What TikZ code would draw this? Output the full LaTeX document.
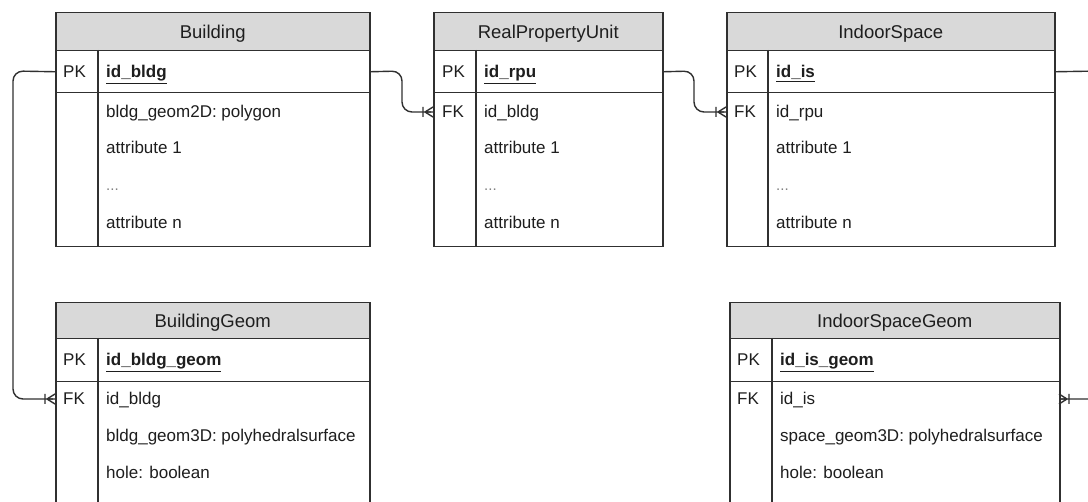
\documentclass[tikz,border=0pt]{standalone}
\usepackage{fontspec}
\setmainfont{Liberation Sans}
\definecolor{linec}{HTML}{303030}
\definecolor{hdrc}{HTML}{D9D9D9}
\definecolor{txtc}{HTML}{1E1E1E}
\newcommand{\keyul}[1]{\underline{\textbf{#1}}}
\begin{document}
\begin{tikzpicture}[x=1pt,y=-1pt,
  box/.style={draw=linec, line width=1.5pt, rectangle, inner sep=0pt, anchor=north west},
  hdr/.style={box, fill=hdrc, text=txtc, font=\fontsize{18.5}{22}\selectfont, text height=13.2pt, text depth=0pt},
  txt/.style={anchor=base west, inner sep=0pt, text=txtc, font=\fontsize{17}{20}\selectfont},
  dots/.style={anchor=base west, inner sep=0pt, text=gray, font=\fontsize{15}{18}\selectfont},
  divl/.style={draw=linec, line width=1.5pt},
  conn/.style={draw=linec, line width=1.4pt, rounded corners=10pt},
  crow/.pic={\draw[linec, line width=1.4pt] (-8,0) -- (0,-5) (-8,0) -- (0,5) (-8,0) -- (-2,0) (-10,-5) -- (-10,5);}
]
\clip (0,0) rectangle (1088,502);
\fill[white] (0,0) rectangle (1088,502);

% ---------- Building ----------
\node[box, minimum width=314pt, minimum height=154pt] (b-body) at (55,92) {};
\node[box, minimum width=314pt, minimum height=42pt] (b-pk) at (55,50) {};
\node[hdr, minimum width=314pt, minimum height=38pt] (b-h) at (55,12) {Building};
\draw[divl] (98,50) -- (98,246);
\node[txt] (b-pkl) at (63,78) {PK};
\node[txt] (b-pkv) at (106,78) {\keyul{id\_bldg}};
\node[txt] (b-r1) at (106,118) {bldg\_geom2D: polygon};
\node[txt] (b-r2) at (106,154) {attribute 1};
\node[dots] (b-r3) at (106,191) {...};
\node[txt] (b-r4) at (106,229) {attribute n};

% ---------- RealPropertyUnit ----------
\node[box, minimum width=229pt, minimum height=154pt] (r-body) at (433,92) {};
\node[box, minimum width=229pt, minimum height=42pt] (r-pk) at (433,50) {};
\node[hdr, minimum width=229pt, minimum height=38pt] (r-h) at (433,12) {RealPropertyUnit};
\draw[divl] (476,50) -- (476,246);
\node[txt] (r-pkl) at (442,78) {PK};
\node[txt] (r-pkv) at (484,78) {\keyul{id\_rpu}};
\node[txt] (r-fkl) at (442,118) {FK};
\node[txt] (r-r1) at (484,118) {id\_bldg};
\node[txt] (r-r2) at (484,154) {attribute 1};
\node[dots] (r-r3) at (484,191) {...};
\node[txt] (r-r4) at (484,229) {attribute n};
\coordinate (r-fkin) at (433,112);

% ---------- IndoorSpace ----------
\node[box, minimum width=328pt, minimum height=154pt] (i-body) at (726,92) {};
\node[box, minimum width=328pt, minimum height=42pt] (i-pk) at (726,50) {};
\node[hdr, minimum width=328pt, minimum height=38pt] (i-h) at (726,12) {IndoorSpace};
\draw[divl] (768,50) -- (768,246);
\node[txt] (i-pkl) at (734,78) {PK};
\node[txt] (i-pkv) at (776,78) {\keyul{id\_is}};
\node[txt] (i-fkl) at (734,118) {FK};
\node[txt] (i-r1) at (776,118) {id\_rpu};
\node[txt] (i-r2) at (776,154) {attribute 1};
\node[dots] (i-r3) at (776,191) {...};
\node[txt] (i-r4) at (776,229) {attribute n};
\coordinate (i-fkin) at (726,112);

% ---------- BuildingGeom ----------
\node[box, minimum width=314pt, minimum height=200pt] (bg-body) at (55,381) {};
\node[box, minimum width=314pt, minimum height=43pt] (bg-pk) at (55,338) {};
\node[hdr, minimum width=314pt, minimum height=36pt] (bg-h) at (55,302) {BuildingGeom};
\draw[divl] (98,338) -- (98,600);
\node[txt] (bg-pkl) at (63,366) {PK};
\node[txt] (bg-pkv) at (106,366) {\keyul{id\_bldg\_geom}};
\node[txt] (bg-fkl) at (63,405) {FK};
\node[txt] (bg-r1) at (106,405) {id\_bldg};
\node[txt] (bg-r2) at (106,442) {bldg\_geom3D: polyhedralsurface};
\node[txt] (bg-r3) at (106,479) {hole: boolean};
\coordinate (bg-fkin) at (55,399);

% ---------- IndoorSpaceGeom ----------
\node[box, minimum width=330pt, minimum height=200pt] (ig-body) at (729,381) {};
\node[box, minimum width=330pt, minimum height=43pt] (ig-pk) at (729,338) {};
\node[hdr, minimum width=330pt, minimum height=36pt] (ig-h) at (729,302) {IndoorSpaceGeom};
\draw[divl] (772,338) -- (772,600);
\node[txt] (ig-pkl) at (737,366) {PK};
\node[txt] (ig-pkv) at (780,366) {\keyul{id\_is\_geom}};
\node[txt] (ig-fkl) at (737,405) {FK};
\node[txt] (ig-r1) at (780,405) {id\_is};
\node[txt] (ig-r2) at (780,442) {space\_geom3D: polyhedralsurface};
\node[txt] (ig-r3) at (780,479) {hole: boolean};
\coordinate (ig-fkin) at (1059,399);

% ---------- connectors ----------
\draw[conn] (b-pk.east) -- (402,71) -- (402,112) -- (r-fkin);
\pic at (r-fkin) {crow};
\draw[conn] (r-pk.east) -- (694,71) -- (694,112) -- (i-fkin);
\pic at (i-fkin) {crow};
\draw[conn] (b-pk.west) -- (13,71) -- (13,399) -- (bg-fkin);
\pic at (bg-fkin) {crow};
\draw[conn] (i-pk.east) -- (1100,71) -- (1100,399) -- (ig-fkin);
\pic[xscale=-1] at (ig-fkin) {crow};
\end{tikzpicture}
\end{document}
